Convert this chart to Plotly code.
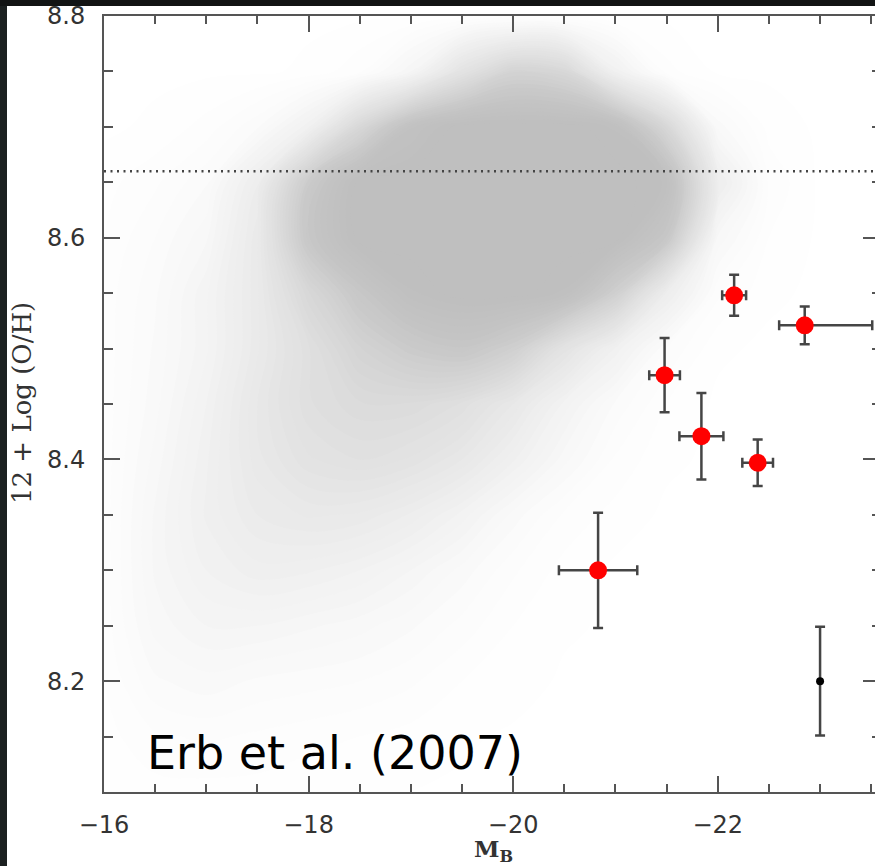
import plotly.graph_objects as go

# ---------------- data ----------------
# density of the grey galaxy cloud (0-10)
cloud_x = [-16.0, -16.5, -17.0, -17.5, -18.0, -18.5, -19.0, -19.5,
           -20.0, -20.5, -21.0, -21.5, -22.0, -22.5, -23.0, -23.5]
cloud_y = [8.10, 8.15, 8.20, 8.25, 8.30, 8.35, 8.40, 8.45,
           8.50, 8.55, 8.60, 8.65, 8.70, 8.75, 8.80]
d_810 = [0.1, 0.2, 0.2, 0.2, 0.1, 0.1, 0.05, 0, 0, 0, 0, 0, 0, 0, 0, 0]
d_815 = [0.2, 0.5, 0.6, 0.5, 0.4, 0.3, 0.2, 0.1, 0, 0, 0, 0, 0, 0, 0, 0]
d_820 = [0.3, 1.0, 1.2, 1.0, 0.9, 0.8, 0.6, 0.3, 0.2, 0, 0, 0, 0, 0, 0, 0]
d_825 = [0.4, 1.4, 1.8, 1.8, 1.6, 1.4, 1.1, 0.7, 0.3, 0.1, 0, 0, 0, 0, 0, 0]
d_830 = [0.4, 1.6, 2.3, 2.7, 2.6, 2.3, 1.8, 1.2, 0.6, 0.2, 0, 0, 0, 0, 0, 0]
d_835 = [0.4, 1.6, 2.6, 3.3, 3.6, 3.5, 3.0, 2.2, 1.2, 0.5, 0.2, 0, 0, 0, 0, 0]
d_840 = [0.4, 1.4, 2.5, 3.7, 4.5, 4.8, 4.5, 3.8, 2.6, 1.4, 0.5, 0.1, 0, 0, 0, 0]
d_845 = [0.4, 1.2, 2.3, 3.8, 5.0, 5.5, 5.5, 5.0, 3.8, 2.2, 1.0, 0.3, 0, 0, 0, 0]
d_850 = [0.4, 1.1, 2.0, 3.5, 5.0, 6.5, 7.5, 8.0, 7.0, 4.5, 2.5, 0.8, 0.1, 0, 0, 0]
d_855 = [0.4, 1.0, 2.0, 3.5, 6.0, 8.0, 9.5, 10, 10, 9.5, 7.0, 3.0, 0.6, 0.1, 0, 0]
d_860 = [0.3, 0.8, 1.5, 3.5, 8.0, 10, 10, 10, 10, 10, 10, 8.0, 1.5, 0.3, 0, 0]
d_865 = [0.2, 0.5, 1.0, 3.0, 7.5, 10, 10, 10, 10, 10, 10, 9.5, 3.0, 0.5, 0, 0]
d_870 = [0, 0.1, 0.4, 1.0, 2.5, 6.0, 9.0, 10, 10, 10, 9.5, 6.0, 1.2, 0.2, 0, 0]
d_875 = [0, 0, 0, 0, 0.1, 0.5, 1.8, 4.5, 6.5, 6.0, 2.5, 0.4, 0, 0, 0, 0]
d_880 = [0, 0, 0, 0, 0, 0, 0, 0.2, 0.4, 0.3, 0, 0, 0, 0, 0, 0]
cloud_z = [d_810, d_815, d_820, d_825, d_830, d_835, d_840, d_845,
           d_850, d_855, d_860, d_865, d_870, d_875, d_880]

# Erb et al. (2007) points
erb_mb = [-22.16, -22.85, -21.48, -21.84, -22.39, -20.83]
erb_oh = [8.548, 8.521, 8.476, 8.421, 8.397, 8.300]
erb_oh_err = [0.0185, 0.017, 0.0335, 0.039, 0.021, 0.052]
erb_mb_err_plus = [0.117, 0.25, 0.15, 0.215, 0.15, 0.383]
erb_mb_err_minus = [0.117, 0.66, 0.15, 0.215, 0.15, 0.383]

# typical error point
typ_mb = [-23.0]
typ_oh = [8.2]
typ_oh_err = [0.049]

solar_oh = 8.66

x_ticks = [-16, -18, -20, -22]
y_ticks = [8.2, 8.4, 8.6, 8.8]

# ---------------- figure ----------------
W, H = 875, 866
ML, MR, MT, MB = 104, 0, 16, 74
XR = [-16.0, -23.537]
YR = [8.1, 8.8]

fig = go.Figure()

fig.add_trace(go.Contour(
    x=cloud_x, y=cloud_y, z=cloud_z, zmin=0, zmax=10,
    contours=dict(coloring="fill", start=0.05, end=10, size=0.25,
                  showlines=False),
    line=dict(width=0),
    colorscale=[[0, "#ffffff"], [0.1, "#fafafa"], [0.2, "#f4f4f4"],
                [0.35, "#eaeaea"], [0.5, "#e0e0e0"], [0.65, "#d4d4d4"],
                [0.8, "#c8c8c8"], [0.9, "#c2c2c2"], [1, "#bfbfbf"]],
    showscale=False, hoverinfo="skip"))

fig.add_trace(go.Scatter(
    x=[XR[0], XR[1]], y=[solar_oh, solar_oh], mode="lines",
    line=dict(color="#444444", width=2.5, dash="2px,4.5px"),
    showlegend=False, hoverinfo="skip"))

fig.add_trace(go.Scatter(
    x=erb_mb, y=erb_oh, mode="markers",
    marker=dict(color="#ff0000", size=18, line=dict(width=0)),
    error_y=dict(type="data", array=erb_oh_err, color="#454545",
                 thickness=2.5, width=5),
    error_x=dict(type="data", array=erb_mb_err_plus,
                 arrayminus=erb_mb_err_minus, color="#454545",
                 thickness=2.5, width=5),
    showlegend=False))

fig.add_trace(go.Scatter(
    x=typ_mb, y=typ_oh, mode="markers",
    marker=dict(color="#000000", size=8),
    error_y=dict(type="data", array=typ_oh_err, color="#454545",
                 thickness=2.5, width=5),
    showlegend=False))

# invisible trace to carry the right-hand tick axis
fig.add_trace(go.Scatter(x=[XR[0]], y=[YR[0]], yaxis="y2", mode="markers",
                         marker=dict(opacity=0), showlegend=False,
                         hoverinfo="skip"))

tickfont = dict(family="DejaVu Sans", size=24, color="#333333")

fig.update_layout(
    width=W, height=H,
    margin=dict(l=ML, r=MR, t=MT, b=MB),
    paper_bgcolor="white", plot_bgcolor="white",
    showlegend=False,
    xaxis=dict(range=XR, tickvals=x_ticks,
               ticktext=["\u221216", "\u221218", "\u221220", "\u221222"],
               ticks="inside", ticklen=16, tickwidth=2, tickcolor="#555555",
               minor=dict(ticks="inside", ticklen=8, tickwidth=2,
                          tickcolor="#555555", dtick=0.5, tick0=-16),
               showline=True, linecolor="#555555", linewidth=2,
               mirror="ticks", showgrid=False, zeroline=False,
               tickfont=tickfont, ticklabelstandoff=10),
    yaxis=dict(range=YR, tickvals=y_ticks,
               ticktext=["8.2", "8.4", "8.6", "8.8"],
               ticks="inside", ticklen=16, tickwidth=2, tickcolor="#555555",
               minor=dict(ticks="inside", ticklen=9, tickwidth=2,
                          tickcolor="#555555", dtick=0.05, tick0=8.1),
               showline=True, linecolor="#555555", linewidth=2,
               showgrid=False, zeroline=False,
               tickfont=tickfont, ticklabelstandoff=12),
    yaxis2=dict(range=YR, overlaying="y", side="right", tickvals=y_ticks,
                showticklabels=False, ticks="inside", ticklen=12,
                tickwidth=2, tickcolor="#555555",
                minor=dict(ticks="inside", ticklen=3, tickwidth=2,
                           tickcolor="#555555", dtick=0.05, tick0=8.1),
                showline=False, showgrid=False, zeroline=False),
)

pw = W - ML - MR
ph = H - MT - MB


def px2paper_x(px):
    return (px - ML) / pw


def py2paper_y(py):
    return (H - MB - py) / ph


# axis titles
fig.add_annotation(text="12 + Log (O/H)", textangle=-90, showarrow=False,
                   xref="paper", yref="paper",
                   x=px2paper_x(22), y=py2paper_y(403),
                   xanchor="center", yanchor="middle",
                   font=dict(family="DejaVu Serif", size=26, color="#333333"))
fig.add_annotation(text="<b>M</b><sub><b>B</b></sub>", showarrow=False,
                   xref="paper", yref="paper",
                   x=px2paper_x(493), y=py2paper_y(850),
                   xanchor="center", yanchor="middle",
                   font=dict(family="DejaVu Serif", size=23, color="#333333"))

# citation label
fig.add_annotation(text="Erb et al. (2007)", showarrow=False,
                   xref="paper", yref="paper",
                   x=px2paper_x(145), y=py2paper_y(753),
                   xanchor="left", yanchor="middle",
                   font=dict(family="DejaVu Sans", size=46, color="#000000"))

# dark frame strips of the original photograph
fig.add_shape(type="rect", xref="paper", yref="paper",
              x0=px2paper_x(0), x1=px2paper_x(7),
              y0=py2paper_y(H), y1=py2paper_y(0),
              fillcolor="#1b2020", line=dict(width=0), layer="above")
fig.add_shape(type="rect", xref="paper", yref="paper",
              x0=px2paper_x(0), x1=px2paper_x(W),
              y0=py2paper_y(6), y1=py2paper_y(0),
              fillcolor="#121414", line=dict(width=0), layer="above")

fig.write_html("out.html")
